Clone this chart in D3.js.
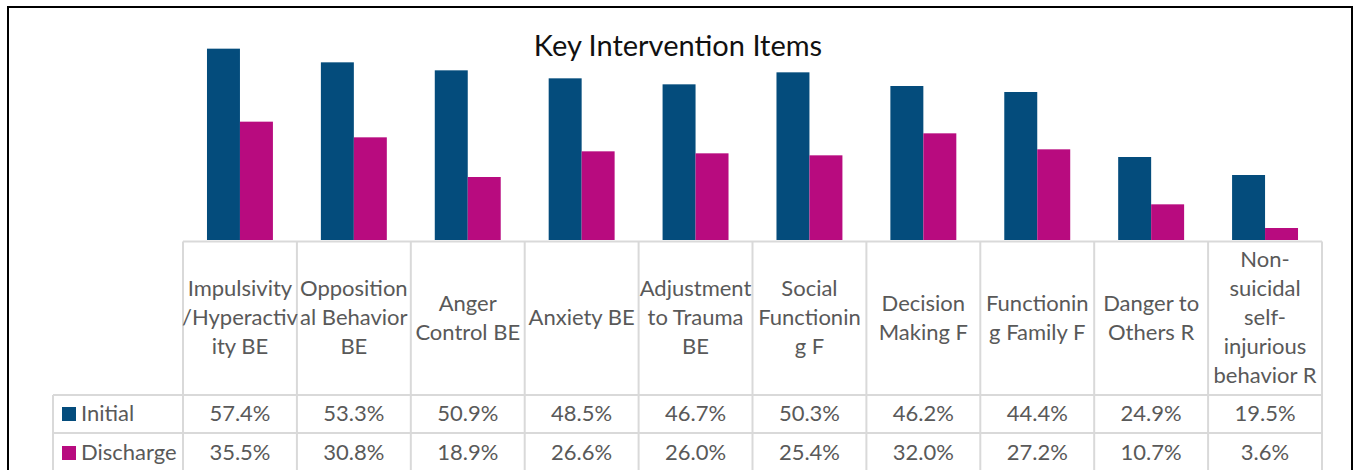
<!DOCTYPE html>
<html>
<head>
<meta charset="utf-8">
<script src="https://cdn.jsdelivr.net/npm/d3@7"></script>
<style>
  html, body { margin: 0; padding: 0; background: #fff; }
  svg { display: block; }
  text { font-family: Lato, "Open Sans", sans-serif; }
</style>
</head>
<body>
<svg id="chart" width="1354" height="470"></svg>
<script>
// data
var categories = ["Impulsivity/Hyperactivity BE", "Oppositional Behavior BE", "Anger Control BE",
  "Anxiety BE", "Adjustment to Trauma BE", "Social Functioning F", "Decision Making F",
  "Functioning Family F", "Danger to Others R", "Non-suicidal self-injurious behavior R"];
// header lines as they wrap in the table
var categoryLines = [
  ["Impulsivity", "/Hyperactiv", "ity BE"],
  ["Opposition", "al Behavior", "BE"],
  ["Anger", "Control BE"],
  ["Anxiety BE"],
  ["Adjustment", "to Trauma", "BE"],
  ["Social", "Functionin", "g F"],
  ["Decision", "Making F"],
  ["Functionin", "g Family F"],
  ["Danger to", "Others R"],
  ["Non-", "suicidal", "self-", "injurious", "behavior R"]
];
var seriesNames = ["Initial", "Discharge"];
var initial   = [57.4, 53.3, 50.9, 48.5, 46.7, 50.3, 46.2, 44.4, 24.9, 19.5];
var discharge = [35.5, 30.8, 18.9, 26.6, 26.0, 25.4, 32.0, 27.2, 10.7, 3.6];
var colors = ["#044c7c", "#b80b7f"];
var title = "Key Intervention Items";

var svg = d3.select("#chart");
var seriesValues = [initial, discharge];

// outer frame
svg.append("rect")
  .attr("x", 8).attr("y", 7)
  .attr("width", 1344).attr("height", 480)
  .attr("fill", "none")
  .attr("stroke", "#000")
  .attr("stroke-width", 2);

var tableLeft = 53, plotLeft = 183, plotRight = 1322;
var baseY = 240;

var x = d3.scaleBand().domain(categories).range([plotLeft, plotRight]).paddingInner(0).paddingOuter(0);
var x1 = d3.scaleBand().domain(seriesNames).range([0, x.bandwidth()]).paddingInner(0).paddingOuter(24 / 33);
var y = d3.scaleLinear().domain([0, 60]).range([baseY, 40]);

// bars
var groups = svg.append("g").selectAll("g")
  .data(categories)
  .join("g")
  .attr("transform", function(d) { return "translate(" + x(d) + ",0)"; });

groups.selectAll("rect")
  .data(function(d, i) {
    return seriesNames.map(function(s, k) { return { s: s, k: k, v: seriesValues[k][i] }; });
  })
  .join("rect")
  .attr("x", function(d) { return x1(d.s); })
  .attr("width", x1.bandwidth())
  .attr("y", function(d) { return y(d.v); })
  .attr("height", function(d) { return y(0) - y(d.v); })
  .attr("fill", function(d) { return colors[d.k]; });

// title
svg.append("text")
  .attr("x", 678).attr("y", 56)
  .attr("text-anchor", "middle")
  .attr("font-size", 29)
  .attr("fill", "#111")
  .text(title);

// data table
var gridColor = "#d9d9d9";
var headTop = 241.5, rowTops = [395, 433], tableBottom = 475;
var grid = svg.append("g").attr("stroke", gridColor).attr("stroke-width", 2);

grid.append("line").attr("x1", plotLeft).attr("x2", plotRight).attr("y1", headTop).attr("y2", headTop);
rowTops.forEach(function(ty) {
  grid.append("line").attr("x1", tableLeft).attr("x2", plotRight).attr("y1", ty).attr("y2", ty);
});
grid.append("line").attr("x1", tableLeft).attr("x2", tableLeft).attr("y1", rowTops[0]).attr("y2", tableBottom);
categories.forEach(function(c) {
  grid.append("line").attr("x1", x(c)).attr("x2", x(c)).attr("y1", headTop).attr("y2", tableBottom);
});
grid.append("line").attr("x1", plotRight).attr("x2", plotRight).attr("y1", headTop).attr("y2", tableBottom);

var textColor = "#595959", fs = 22, lineH = 29;

// header labels
categories.forEach(function(c, i) {
  var lines = categoryLines[i];
  var t = svg.append("text")
    .attr("text-anchor", "middle")
    .attr("font-size", fs)
    .attr("fill", textColor);
  lines.forEach(function(l, j) {
    t.append("tspan")
      .attr("x", x(c) + x.bandwidth() / 2)
      .attr("y", 325 + (j - (lines.length - 1) / 2) * lineH)
      .text(l);
  });
});

// value rows + legend keys
var rowBase = [421, 460];
seriesNames.forEach(function(s, k) {
  svg.append("rect")
    .attr("x", 62).attr("y", rowBase[k] - 14)
    .attr("width", 14).attr("height", 14)
    .attr("fill", colors[k]);
  svg.append("text")
    .attr("x", 81).attr("y", rowBase[k])
    .attr("font-size", fs)
    .attr("fill", textColor)
    .text(s);
  svg.append("g").selectAll("text")
    .data(seriesValues[k])
    .join("text")
    .attr("x", function(d, i) { return x(categories[i]) + x.bandwidth() / 2; })
    .attr("y", rowBase[k])
    .attr("text-anchor", "middle")
    .attr("font-size", fs)
    .attr("fill", textColor)
    .text(function(d) { return d.toFixed(1) + "%"; });
});
</script>
</body>
</html>
